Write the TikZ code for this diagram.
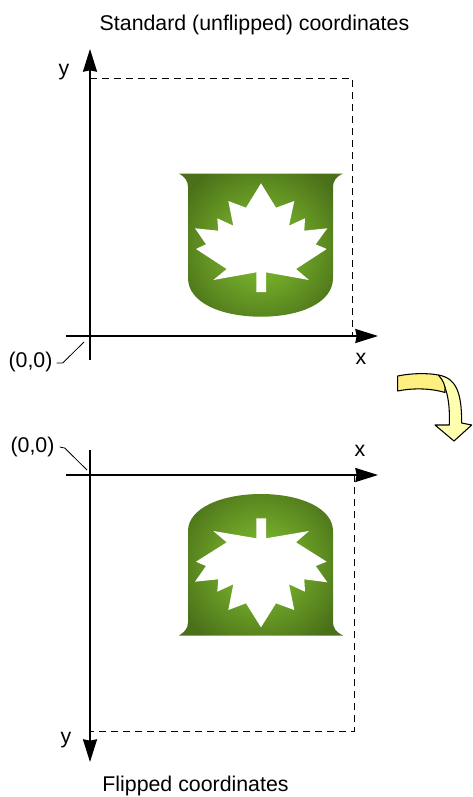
\documentclass[tikz,border=0pt]{standalone}
\usepackage{fontspec}
\setmainfont{Liberation Sans}
\usetikzlibrary{arrows.meta}
\definecolor{leafdark}{HTML}{4A7019}
\definecolor{leaflight}{HTML}{74AC2A}
\definecolor{foldback}{HTML}{FFEE80}
\definecolor{foldfront}{HTML}{FFFFB0}
\pgfdeclareradialshading{leafglow}{\pgfpoint{0bp}{0bp}}{color(0bp)=(leaflight); color(8bp)=(leaflight); color(25bp)=(leafdark); color(50bp)=(leafdark)}
\tikzset{
  axis/.style={line width=1.3pt,-{Stealth[length=17pt,width=10.5pt,inset=1pt]}},
  guide/.style={line width=0.75pt,dash pattern=on 5.5pt off 3.5pt},
  leader/.style={line width=0.6pt},
  lbl/.style={inner sep=0pt,font=\fontsize{16pt}{18pt}\selectfont},
  fold/.style={draw=black,line width=0.8pt,line join=round}
}
\begin{document}
\begin{tikzpicture}[x=0.75pt,y=-0.75pt]
\useasboundingbox (0,0) rectangle (472,797);
% upper shield
\begin{scope}
\clip (179,173.5) -- (343,173.5) .. controls (336,177) and (333,181) .. (333,187) -- (333,278)
  .. controls (333,303) and (300,316.7) .. (261,316.7) .. controls (222,316.7) and (188,303) .. (188,278)
  -- (188,187) .. controls (188,181) and (185,177) .. (179,173.5) -- cycle;
\shade[shading=leafglow] (169,155) rectangle (353,339);
\end{scope}
\fill[white] (261,183.3) -- (276,207.7) -- (294.3,201) -- (289,225.7) -- (305,218.3) -- (304.3,230.7)
  -- (327.3,228.3) -- (315.7,244.3) -- (326.7,249) -- (296,269) -- (309,280) -- (266,272.3) -- (266,292)
  -- (256.3,292) -- (256.3,272.3) -- (213.3,280) -- (226.7,269) -- (196,249) -- (206,244.3) -- (195,228.3)
  -- (218.3,230.7) -- (217.3,218.3) -- (233.3,225.7) -- (228.3,201) -- (246,207.7) -- cycle;
% lower shield
\begin{scope}
\clip (179,635.5) -- (343,635.5) .. controls (336,632) and (333,628) .. (333,622) -- (333,531)
  .. controls (333,508) and (300,494) .. (261,494) .. controls (222,494) and (188,508) .. (188,531)
  -- (188,622) .. controls (188,628) and (185,632) .. (179,635.5) -- cycle;
\shade[shading=leafglow] (169,473) rectangle (353,657);
\end{scope}
\fill[white] (261,627.3) -- (276,603.3) -- (294.3,610) -- (289,584.3) -- (305,591.7) -- (304.3,579.3)
  -- (327.3,582.3) -- (315.7,566) -- (326.7,561.7) -- (296,542.3) -- (309,531) -- (266,538.3) -- (266,518.3)
  -- (256.3,518.3) -- (256.3,538.3) -- (213.3,531) -- (226.7,542.3) -- (196,561.7) -- (206,566) -- (195,581.7)
  -- (218.3,579.3) -- (217.3,591.7) -- (233.3,584.3) -- (228.3,610) -- (246,603.3) -- cycle;
% axes points
\coordinate (ux0) at (66,336); \coordinate (ux1) at (378,336);
\coordinate (uy0) at (90,360); \coordinate (uy1) at (90,49);
\coordinate (utl) at (90,78); \coordinate (utr) at (352,78); \coordinate (ubr) at (352,336);
\coordinate (lx0) at (66,475); \coordinate (lx1) at (378,475);
\coordinate (ly0) at (90,450); \coordinate (ly1) at (90,762);
\coordinate (ltr) at (354,475); \coordinate (lbr) at (354,731); \coordinate (lbl) at (90,731);
\draw[guide] (utl) -- (utr) -- (ubr);
\draw[guide] (ltr) -- (lbr) -- (lbl);
\draw[axis] (ux0) -- (ux1);
\draw[axis] (uy0) -- (uy1);
\draw[axis] (lx0) -- (lx1);
\draw[axis] (ly0) -- (ly1);
% labels
\node[lbl] (ttop) at (254.5,25) {Standard (unflipped) coordinates};
\node[lbl] (tbot) at (195.5,786) {Flipped coordinates};
\node[lbl] (yu) at (64,72) {y};
\node[lbl] (xu) at (361,359) {x};
\node[lbl] (xl) at (360,451) {x};
\node[lbl] (yl) at (66,740) {y};
\node[lbl] (ou) at (30.5,362) {(0,0)};
\node[lbl] (ol) at (32.5,447) {(0,0)};
\coordinate (oua) at (84,342); \coordinate (ola) at (87,470);
\draw[leader] (ou.east) ++(4,1) -- ++(6,0) -- (oua);
\draw[leader] (ol.east) ++(5,0) -- ++(5,1) -- (ola);
% curved arrow
\draw[fold,fill=foldfront] (438.3,375) .. controls (456,378) and (461.7,392) .. (461.7,423)
  -- (471.7,425) -- (454,441) -- (435,425) -- (449.3,425) .. controls (450,405) and (448,388) .. (438.3,375) -- cycle;
\draw[fold,fill=foldback] (397.7,376) .. controls (412,373) and (428,373) .. (438.3,375)
  .. controls (443,380) and (446,386) .. (445,392.5) .. controls (430,388) and (412,388) .. (397.7,391) -- cycle;
\end{tikzpicture}
\end{document}
